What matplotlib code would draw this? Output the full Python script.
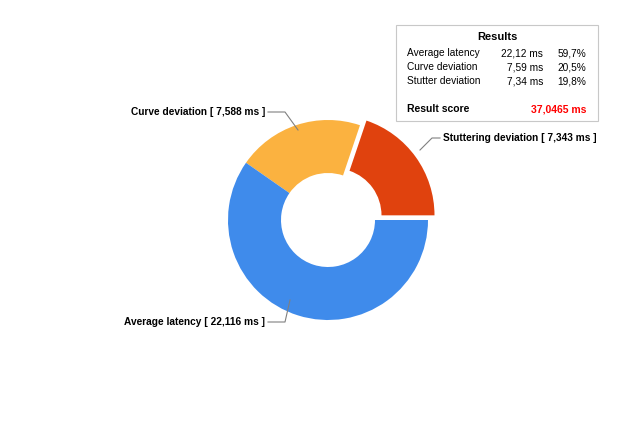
import matplotlib.pyplot as plt
from matplotlib.patches import Rectangle

names = ['Stuttering deviation', 'Curve deviation', 'Average latency']
values = [7.343, 7.588, 22.116]
label_texts = ['Stuttering deviation [ 7,343 ms ]', 'Curve deviation [ 7,588 ms ]',
               'Average latency [ 22,116 ms ]']
colors = ['#e0420e', '#fbb240', '#3f8beb']
table_rows = [('Average latency', '22,12 ms', '59,7%'),
              ('Curve deviation', '7,59 ms', '20,5%'),
              ('Stutter deviation', '7,34 ms', '19,8%')]
score = '37,0465 ms'

W, H = 635, 432
fig = plt.figure(figsize=(W / 100, H / 100), dpi=100)
plt.rcParams['font.family'] = ['Liberation Sans', 'DejaVu Sans']

cx, cy = 328, 220
ax = fig.add_axes([(cx - 130) / W, (H - cy - 130) / H, 260 / W, 260 / H])
ax.pie(values, colors=colors, startangle=0, counterclock=True,
       explode=[0.08, 0, 0], radius=1.0,
       wedgeprops=dict(width=0.53, edgecolor='none'))
ax.set_xlim(-1.3, 1.3)
ax.set_ylim(-1.3, 1.3)
ax.set_aspect('equal')
ax.axis('off')

def px(x, y):
    return x / W, 1 - y / H

# labels and leader lines (pixel coords)
leaders = [
    (label_texts[0], (443, 138), 'left', [(420, 150), (432, 138), (440, 138)]),
    (label_texts[1], (265, 112), 'right', [(298, 130), (285, 112), (268, 112)]),
    (label_texts[2], (265, 322), 'right', [(290, 300), (285, 322), (268, 322)]),
]
for txt, (tx, ty), ha, pts in leaders:
    xs = [px(*p)[0] for p in pts]
    ys = [px(*p)[1] for p in pts]
    fig.add_artist(plt.Line2D(xs, ys, color='#808080', lw=0.8))
    fig.text(*px(tx, ty), txt, ha=ha, va='center', fontsize=7.3, fontweight='bold')

# results box
x0, y0, x1, y1 = 396, 25, 598, 121
fig.add_artist(Rectangle(px(x0, y1), (x1 - x0) / W, (y1 - y0) / H,
                         transform=fig.transFigure, fill=False, ec='#c8c8c8', lw=0.8))
fig.text(*px(497, 37), 'Results', ha='center', va='center', fontsize=8, fontweight='bold')
for i, (n, v, p) in enumerate(table_rows):
    yy = 53 + i * 14
    fig.text(*px(407, yy), n, ha='left', va='center', fontsize=7.3)
    fig.text(*px(543, yy), v, ha='right', va='center', fontsize=7.3)
    fig.text(*px(586, yy), p, ha='right', va='center', fontsize=7.3)
fig.text(*px(407, 109), 'Result score', ha='left', va='center', fontsize=7.5, fontweight='bold')
fig.text(*px(586, 109), score, ha='right', va='center', fontsize=7.5, fontweight='bold', color='red')

fig.savefig('out.png', dpi=100)
